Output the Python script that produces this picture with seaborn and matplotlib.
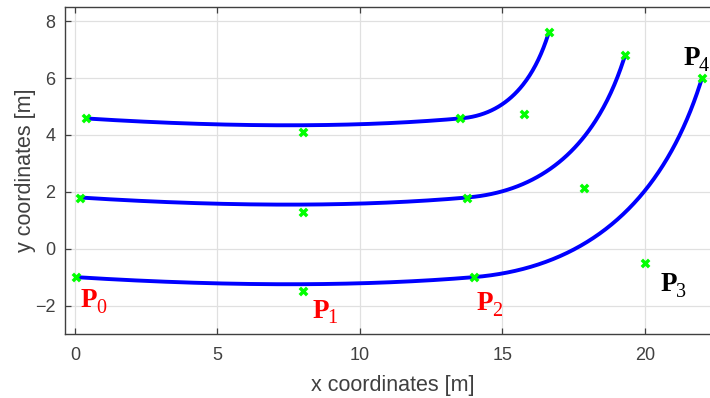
import numpy as np
import pandas as pd
import matplotlib
matplotlib.use("Agg")
import matplotlib.pyplot as plt
import seaborn as sns

# Control points of the three paths (P0..P4)
ctrl_x_top = [0.40, 8.0, 13.5, 15.75, 16.63]
ctrl_y_top = [4.58, 4.1, 4.58, 4.74, 7.62]
ctrl_x_mid = [0.18, 8.0, 13.75, 17.86, 19.30]
ctrl_y_mid = [1.80, 1.3, 1.80, 2.14, 6.80]
ctrl_x_bot = [0.03, 8.0, 14.0, 20.0, 22.0]
ctrl_y_bot = [-1.0, -1.5, -1.0, -0.5, 6.0]
point_names = ["0", "1", "2", "3", "4"]
label_colors = ["red", "red", "red", "black", "black"]
x_ticks = [0, 5, 10, 15, 20]
y_ticks = [-2, 0, 2, 4, 6, 8]

sns.set_style("white")
plt.rcParams["font.family"] = ["Liberation Sans", "DejaVu Sans"]


def quad_bezier(p0, p1, p2, n=120):
    t = np.linspace(0, 1, n)
    return (1 - t) ** 2 * p0 + 2 * (1 - t) * t * p1 + t ** 2 * p2


paths = {"top": (ctrl_x_top, ctrl_y_top),
         "mid": (ctrl_x_mid, ctrl_y_mid),
         "bot": (ctrl_x_bot, ctrl_y_bot)}

curve_rows = []
pt_rows = []
for name, (cx, cy) in paths.items():
    cx = np.asarray(cx, float)
    cy = np.asarray(cy, float)
    xs = np.concatenate([quad_bezier(cx[0], cx[1], cx[2]), quad_bezier(cx[2], cx[3], cx[4])[1:]])
    ys = np.concatenate([quad_bezier(cy[0], cy[1], cy[2]), quad_bezier(cy[2], cy[3], cy[4])[1:]])
    for i, (a, b) in enumerate(zip(xs, ys)):
        curve_rows.append({"path": name, "order": i, "x": a, "y": b})
    for a, b in zip(cx, cy):
        pt_rows.append({"path": name, "x": a, "y": b})

curves = pd.DataFrame(curve_rows)
pts = pd.DataFrame(pt_rows)

fig = plt.figure(figsize=(7.10, 3.98), dpi=100)
ax = fig.add_axes([65 / 710, 1 - 334 / 398, (22.65 + 0.35) * 28.5 / 710, (334 - 7) / 398])

for name in paths:
    sub = curves[curves.path == name]
    sns.lineplot(data=sub, x="x", y="y", sort=False, estimator=None, color="#0000ff",
                 linewidth=2.8, ax=ax, legend=False)
sns.scatterplot(data=pts, x="x", y="y", marker="X", color="#00ff00", s=50,
                linewidth=0, ax=ax, legend=False, zorder=5)

ax.set_xlim(-0.35, 22.65)
ax.set_ylim(-3.0, 8.5)
ax.set_xticks(x_ticks)
ax.set_yticks(y_ticks)
ax.grid(True, color="#e0e0e0", linewidth=0.9)
ax.set_axisbelow(True)
ax.tick_params(direction="in", top=True, bottom=True, left=True, right=False,
               length=4, width=0.9, colors="#404040", labelsize=13, labelcolor="#404040")
ax.tick_params(axis="x", pad=9)
ax.tick_params(axis="y", pad=7)
for s in ["left", "bottom", "top"]:
    ax.spines[s].set_color("#404040")
    ax.spines[s].set_linewidth(1.0)
ax.spines["right"].set_visible(False)
ax.set_xlabel("x coordinates [m]", fontsize=15.5, color="#404040", labelpad=8)
ax.set_ylabel("y coordinates [m]", fontsize=15.5, color="#404040", labelpad=-1)

# P labels on the bottom path
label_dx = [0.18, 0.32, 0.1, 0.55, -0.65]
label_dy = [-1.06, -0.92, -1.14, -1.0, 0.46]
fig.canvas.draw()
renderer = fig.canvas.get_renderer()
for i in range(5):
    lx = ctrl_x_bot[i] + label_dx[i]
    ly = ctrl_y_bot[i] + label_dy[i]
    t = ax.text(lx, ly, "P", color=label_colors[i], fontsize=19.5,
                family="Liberation Serif", fontweight="bold", ha="left", va="baseline")
    w_pts = t.get_window_extent(renderer).width * 72 / fig.dpi
    ax.annotate(point_names[i], xy=(lx, ly), xytext=(w_pts - 0.8, -4.3),
                textcoords="offset points", color=label_colors[i], fontsize=14.5,
                family="Liberation Serif", ha="left", va="baseline")

fig.savefig("out.png", dpi=100)
